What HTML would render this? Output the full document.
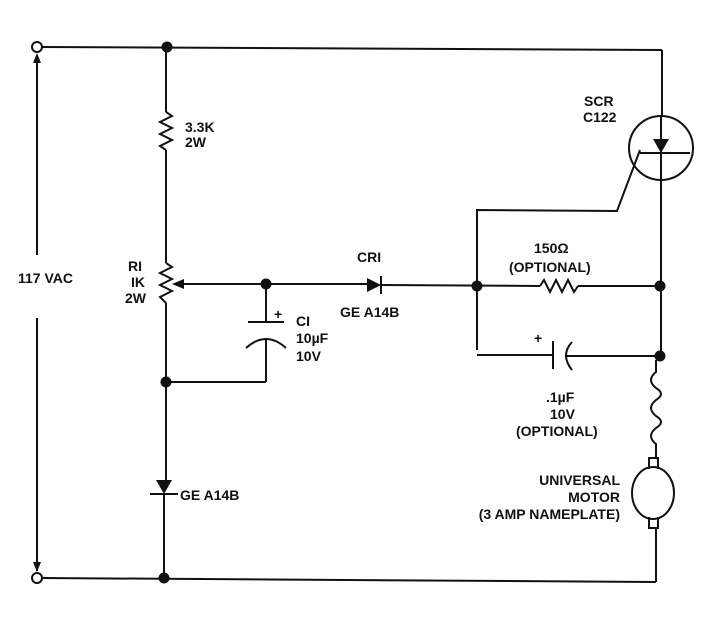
<!DOCTYPE html>
<html><head><style>
body{margin:0;background:#fff;}
svg{display:block;}
text{font-family:"Liberation Sans",Arial,sans-serif;font-size:14px;font-weight:bold;fill:#111;}
</style></head><body>
<svg width="713" height="617" viewBox="0 0 713 617" xmlns="http://www.w3.org/2000/svg">
<g stroke="#111" stroke-width="2" fill="none">
<line x1="41" y1="47" x2="662" y2="50"/>
<line x1="662" y1="50" x2="662" y2="115"/>
<line x1="41" y1="578" x2="656" y2="582"/>
<line x1="37" y1="55" x2="37" y2="255"/>
<line x1="37" y1="318" x2="37" y2="571"/>
<line x1="166" y1="47" x2="166" y2="112"/>
<polyline points="166,112 172,116 160,122 172,128 160,134 172,140 160,146 166,150"/>
<line x1="166" y1="150" x2="166" y2="263"/>
<polyline points="166,263 172,267 160,273 172,279 160,285 172,291 160,297 166,303"/>
<line x1="166" y1="303" x2="166" y2="480"/>
<line x1="164" y1="494" x2="164" y2="578"/>
<line x1="150" y1="494" x2="178" y2="494"/>
<line x1="180" y1="284" x2="367" y2="284"/>
<line x1="266" y1="284" x2="266" y2="322"/>
<line x1="248" y1="322" x2="284" y2="322"/>
<path d="M246,348 Q266,330 286,348"/>
<line x1="266" y1="340" x2="266" y2="382"/>
<line x1="166" y1="382" x2="266" y2="382"/>
<line x1="381" y1="276" x2="381" y2="294"/>
<line x1="381" y1="285" x2="540" y2="286"/>
<line x1="578" y1="286" x2="660" y2="286"/>
<polyline points="477,350 477,210 617,211 640,150"/>
<line x1="477" y1="355" x2="553" y2="355"/>
<line x1="553" y1="341" x2="553" y2="369"/>
<path d="M572,342 Q560,355 572,370"/>
<line x1="565" y1="356" x2="660" y2="356"/>
<polyline points="540,286 544,280 550,292 556,280 562,292 568,280 574,292 578,286"/>
<circle cx="661" cy="148" r="32"/>
<line x1="661" y1="115" x2="661" y2="356"/>
<line x1="640" y1="153" x2="690" y2="153"/>
<path d="M656,360 L656,372 Q646,380 656,388 Q666,394 656,400 Q646,408 656,416 Q666,422 656,428 Q646,436 656,444 L656,458"/>
<ellipse cx="653" cy="493" rx="21" ry="26"/>
<path d="M649,469 L649,458 L658,458 L658,469"/>
<path d="M649,517 L649,528 L658,528 L658,517"/>
<line x1="656" y1="528" x2="656" y2="582"/>
</g>
<g fill="#111">
<circle cx="37" cy="47" r="5" fill="#fff" stroke="#111" stroke-width="2"/>
<circle cx="37" cy="578" r="5" fill="#fff" stroke="#111" stroke-width="2"/>
<polygon points="37,53 33,63 41,63"/>
<polygon points="37,572 33,562 41,562"/>
<circle cx="167" cy="47" r="5.5"/>
<circle cx="166" cy="382" r="5.5"/>
<circle cx="164" cy="578" r="5.5"/>
<circle cx="266" cy="284" r="5.5"/>
<circle cx="477" cy="286" r="5.5"/>
<circle cx="660" cy="286" r="5.5"/>
<circle cx="660" cy="356" r="5.5"/>
<polygon points="172,284 184,279 184,289"/>
<polygon points="367,278 367,292 381,285"/>
<polygon points="156,480 172,480 164,494"/>
<polygon points="653,139 669,139 661,153"/>
</g>
<text x="185" y="132">3.3K</text>
<text x="185" y="147">2W</text>
<text x="128" y="271">RI</text>
<text x="131" y="287">IK</text>
<text x="125" y="303">2W</text>
<text x="18" y="283">117 VAC</text>
<text x="274" y="319">+</text>
<text x="296" y="326">CI</text>
<text x="296" y="343">10µF</text>
<text x="296" y="361">10V</text>
<text x="357" y="262">CRI</text>
<text x="340" y="317">GE A14B</text>
<text x="180" y="500">GE A14B</text>
<text x="584" y="106">SCR</text>
<text x="583" y="122">C122</text>
<text x="534" y="253">150Ω</text>
<text x="509" y="272">(OPTIONAL)</text>
<text x="534" y="343">+</text>
<text x="546" y="402">.1µF</text>
<text x="550" y="419">10V</text>
<text x="516" y="436">(OPTIONAL)</text>
<text x="620" y="485" text-anchor="end">UNIVERSAL</text>
<text x="620" y="502" text-anchor="end">MOTOR</text>
<text x="620" y="519" text-anchor="end">(3 AMP NAMEPLATE)</text>
</svg>
</body></html>
